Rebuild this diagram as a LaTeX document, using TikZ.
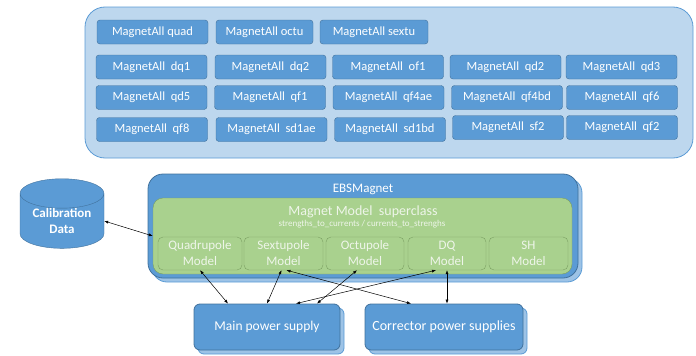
\documentclass[tikz,border=0pt]{standalone}
\usepackage{fontspec}
\setmainfont{Carlito}
\usetikzlibrary{shapes.geometric, arrows.meta, calc, shadows}

\definecolor{mblue}{HTML}{5B9BD5}
\definecolor{mborder}{HTML}{41719C}
\definecolor{mpanel}{HTML}{BDD7EE}
\definecolor{mgreen}{HTML}{A9D18E}
\definecolor{gborder}{HTML}{7A9E62}
\definecolor{gtext}{HTML}{EEF5E9}
\definecolor{mshade}{HTML}{9DC3E6}

\begin{document}
\begin{tikzpicture}[x=1pt, y=-1pt,
    panel/.style={draw=mblue, fill=mpanel, rounded corners=20pt, line width=0.8pt},
    magnet/.style={draw=mborder, fill=mblue, rounded corners=3pt, text=white,
      minimum height=24pt, inner sep=0pt, font=\fontsize{12.5}{14}\selectfont},
    layer/.style={draw=mborder, fill=mblue, line width=0.8pt,
      copy shadow={fill=mshade, draw=mblue, shadow xshift=4pt, shadow yshift=-4pt}},
    model/.style={draw=gborder, fill=mgreen, rounded corners=5pt, text=gtext, align=center,
      minimum height=33pt, inner sep=0pt, font=\fontsize{13}{16}\selectfont},
    link/.style={<->, >={Latex[length=4pt, width=3pt]}, line width=0.5pt}]

      \useasboundingbox (0,0) rectangle (696,356);

      \node[panel, minimum width=608, minimum height=151] (magnets) at (389,82.5) {};

      \node[magnet, minimum width=111] (quad) at (152.5,32) {MagnetAll quad};
      \node[magnet, minimum width=97] (octu) at (264.5,32) {MagnetAll octu};
      \node[magnet, minimum width=108] (sextu) at (374,32) {MagnetAll sextu};

      \node[magnet, minimum width=111] (dq1) at (151.5,67) {MagnetAll~~dq1};
      \node[magnet, minimum width=111] (dq2) at (270.5,67) {MagnetAll~~dq2};
      \node[magnet, minimum width=111] (of1) at (388,67) {MagnetAll~~of1};
      \node[magnet, minimum width=111] (qd2) at (505.5,67) {MagnetAll~~qd2};
      \node[magnet, minimum width=111] (qd3) at (621.5,67) {MagnetAll~~qd3};

      \node[magnet, minimum width=111] (qd5) at (151.5,97.5) {MagnetAll~~qd5};
      \node[magnet, minimum width=111] (qf1) at (270,97.5) {MagnetAll~~qf1};
      \node[magnet, minimum width=111] (qf4ae) at (388.5,97.5) {MagnetAll~~qf4ae};
      \node[magnet, minimum width=111] (qf4bd) at (507,97.5) {MagnetAll~~qf4bd};
      \node[magnet, minimum width=111] (qf6) at (622,97.5) {MagnetAll~~qf6};

      \node[magnet, minimum width=111] (qf8) at (152,129.5) {MagnetAll~~qf8};
      \node[magnet, minimum width=111] (sd1ae) at (271.5,129.5) {MagnetAll~~sd1ae};
      \node[magnet, minimum width=111] (sd1bd) at (390,129.5) {MagnetAll~~sd1bd};
      \node[magnet, minimum width=111] (sf2) at (508,127.5) {MagnetAll~~sf2};
      \node[magnet, minimum width=111] (qf2) at (622,127.5) {MagnetAll~~qf2};

      \node[cylinder, shape border rotate=90, aspect=0.5, draw=mborder, fill=mblue,
        minimum width=84, minimum height=56, inner sep=0pt, text=white, align=center,
        font=\bfseries\fontsize{13}{16}\selectfont] (calib) at (62,221) {Calibration\\Data};

      \node[layer, rounded corners=15pt, minimum width=430, minimum height=104] (ebs) at (363,226) {};
      \node[text=white, font=\fontsize{13}{15}\selectfont] (ebstitle) at (363,189) {EBSMagnet};
      \node[draw=gborder, fill=mgreen, rounded corners=10pt, minimum width=419, minimum height=76] (super) at (362.5,236) {};
      \node[text=gtext, font=\fontsize{14}{16}\selectfont] (supertitle) at (363,212) {Magnet Model~~superclass};
      \node[text=gtext, font=\fontsize{9}{10}\selectfont] (supersub) at (362,224.5)
        {strengths\_to\_currents / currents\_to\_strenghs};

      \node[model, minimum width=84] (quadm) at (200,253.5) {Quadrupole\\Model};
      \node[model, minimum width=79] (sextm) at (283.5,253.5) {Sextupole\\Model};
      \node[model, minimum width=78] (octm) at (365,253.5) {Octupole\\Model};
      \node[model, minimum width=78] (dqm) at (447,253.5) {DQ\\Model};
      \node[model, minimum width=79] (shm) at (528.5,253.5) {SH\\Model};

      \node[layer, rounded corners=6pt, text=white, minimum width=146, minimum height=46,
        font=\fontsize{13.5}{16}\selectfont] (main) at (267,327) {Main power supply};
      \node[layer, rounded corners=6pt, text=white, minimum width=158, minimum height=46,
        font=\fontsize{14}{16}\selectfont] (corr) at (444,327) {Corrector power supplies};

      \draw[link] (calib.east) -- (super.west);
      \draw[link] (quadm.south) -- ($(main.north)+(-39,0)$);
      \draw[link] ($(sextm.south)+(-2,0)$) -- (main.north);
      \draw[link] ($(sextm.south)+(3,0)$) -- ($(corr.north)+(-33,0)$);
      \draw[link] ($(octm.south)+(-8,0)$) -- ($(main.north)+(50,0)$);
      \draw[link] ($(dqm.south)+(-11,0)$) -- ($(main.north)+(29,0)$);
      \draw[link] (dqm.south) -- (dqm.south |- corr.north);

\end{tikzpicture}
\end{document}
